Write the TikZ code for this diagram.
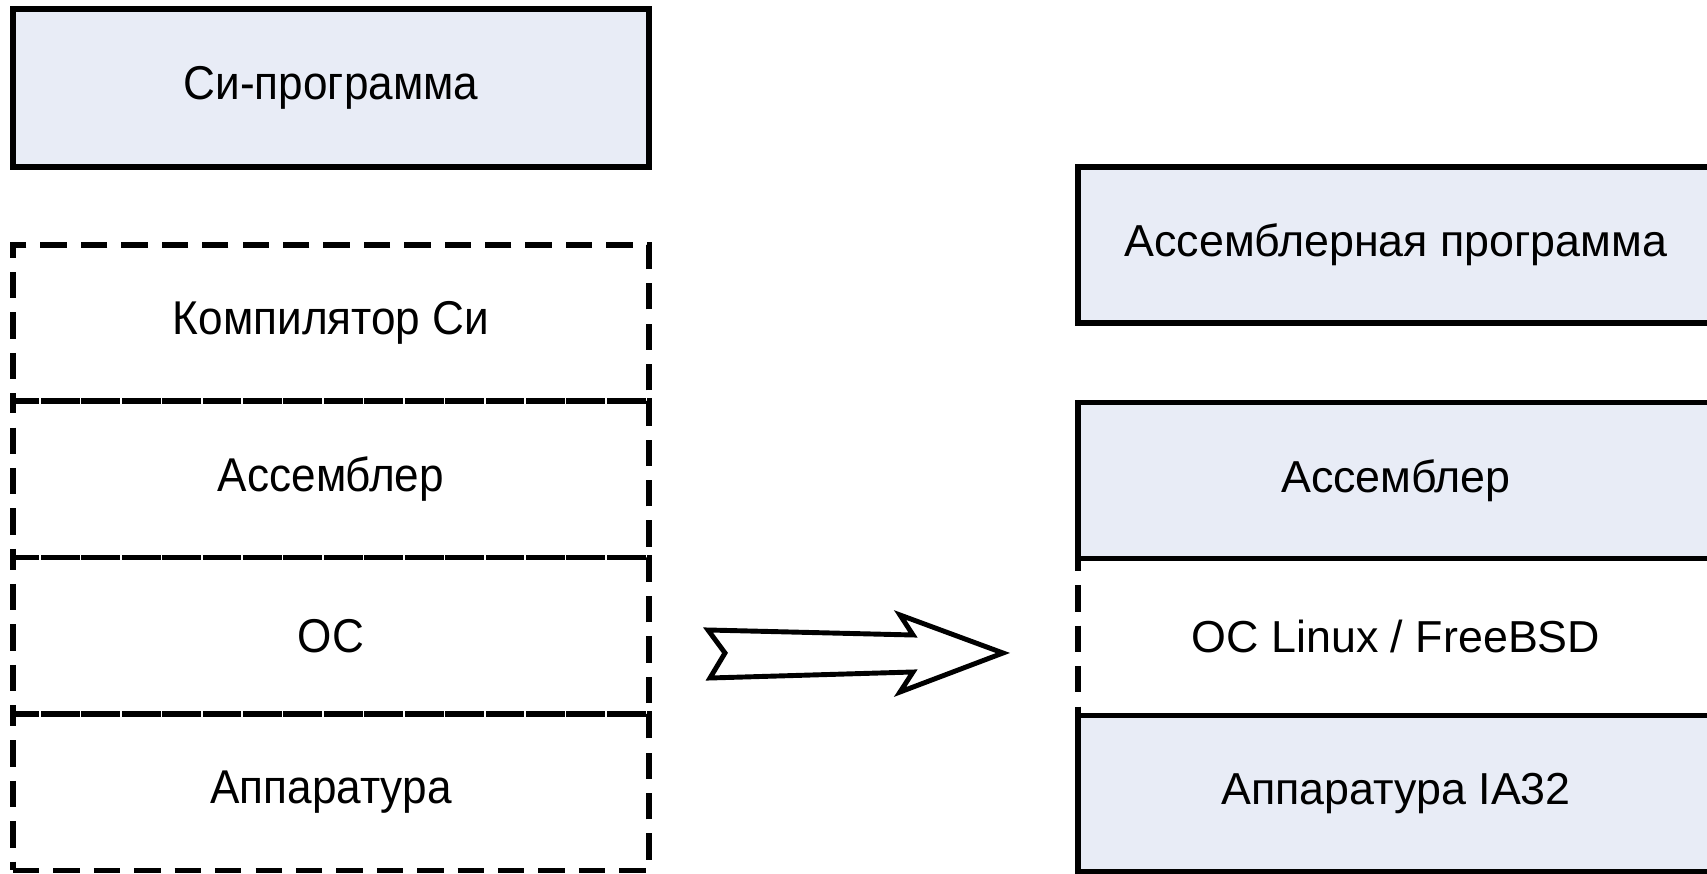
\documentclass[tikz,border=0pt]{standalone}
\usepackage{fontspec}
\setmainfont{Liberation Sans}
\newfontfamily\narrowfont[FakeStretch=0.93]{Liberation Sans}
\usetikzlibrary{positioning}
\definecolor{layerfill}{RGB}{232,236,246}

\begin{document}
\begin{tikzpicture}[x=0.02cm,y=-0.02cm,
						layer/.style={rectangle,inner sep=0pt,outer sep=0pt,minimum width=12.72cm,minimum height=3.13cm,line width=3pt,font=\fontsize{25.5}{30}\selectfont},
						solidlayer/.style={layer,draw=black,fill=layerfill},
						dashlayer/.style={layer,draw=black,dash pattern=on 15pt off 8pt},
						narrow/.style={font=\narrowfont\fontsize{27}{32}\selectfont}]
		\useasboundingbox (0,0) rectangle (1707,874);
		\clip (0,0) rectangle (1707,874);

		% left column
		\node[solidlayer,narrow,minimum height=3.16cm]		at (331,88)		(cprog)		{Си-программа};
		\node[dashlayer,narrow,minimum height=3.12cm]		at (331,323)	(ccomp)		{Компилятор Си};
		\node[dashlayer,narrow,below=0pt of ccomp]						(casm)		{Ассемблер};
		\node[dashlayer,narrow,below=0pt of casm]						(cos)		{ОС};
		\node[dashlayer,narrow,below=0pt of cos]						(chw)		{Аппаратура};

		% right column
		\node[solidlayer,minimum height=3.12cm]			at (1396,245)	(aprog)		{Ассемблерная программа};
		\node[solidlayer]								at (1396,480.5)	(aasm)		{Ассемблер};
		\node[dashlayer,fill=white,below=0pt of aasm]					(aos)		{ОС Linux / FreeBSD};
		\node[solidlayer,below=0pt of aos]								(ahw)		{Аппаратура IA32};
		\draw[line width=3pt] (aos.north west) -- (aos.north east);

		% block arrow
		\draw[line width=2.8pt,line join=miter,fill=white]
			(708,630) -- (913,635) -- (900,615) -- (1003,653) -- (900,692) -- (913,672) -- (710,678) -- (725,653) -- cycle;
	\end{tikzpicture}
\end{document}
